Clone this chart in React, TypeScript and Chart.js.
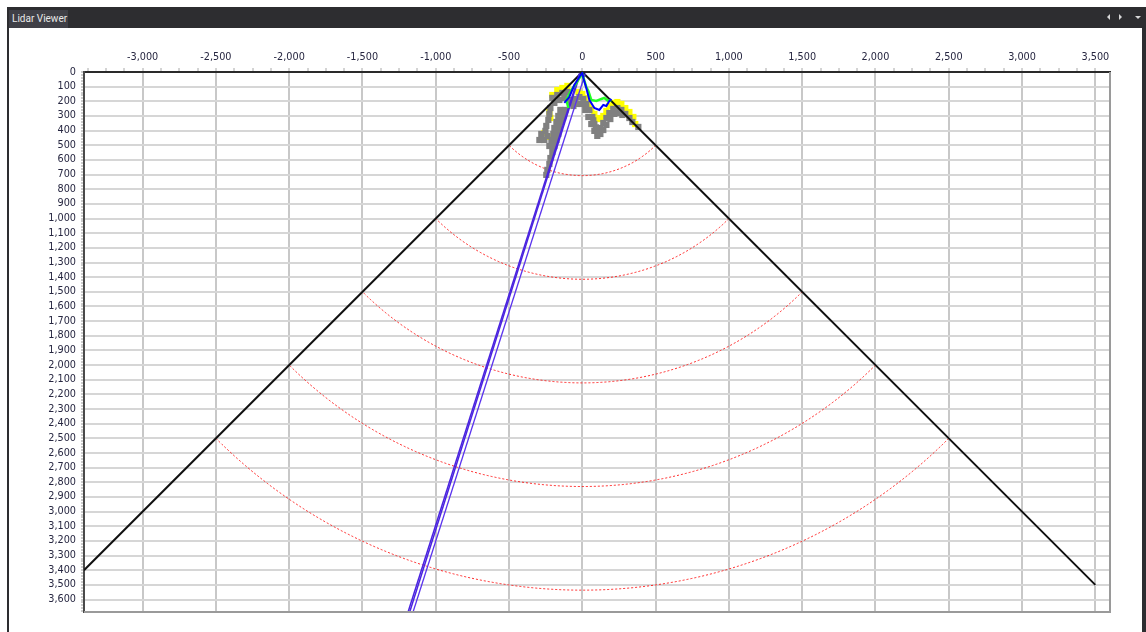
import React, { useEffect, useRef } from "react";
import { Chart, registerables } from "chart.js";

Chart.register(...registerables);

// ---- axis ranges / tick labels ----
const X_MIN = -3400;
const X_MAX = 3600;
const Y_MIN = 0;
const Y_MAX = 3685;
const X_LABELS = [-3000, -2500, -2000, -1500, -1000, -500, 0, 500, 1000, 1500, 2000, 2500, 3000, 3500];
const Y_LABELS = [
  0, 100, 200, 300, 400, 500, 600, 700, 800, 900, 1000, 1100, 1200, 1300, 1400, 1500, 1600, 1700, 1800,
  1900, 2000, 2100, 2200, 2300, 2400, 2500, 2600, 2700, 2800, 2900, 3000, 3100, 3200, 3300, 3400, 3500, 3600,
];
const X_MINOR_STEP = 125;
const Y_MINOR_STEP = 20;

// ---- field of view & range rings ----
const FOV_LINE = [
  { x: -3400, y: 3400 },
  { x: 0, y: 0 },
  { x: 3500, y: 3500 },
];
// range rings meet the FOV lines at these x values
const RING_X = [500, 1000, 1500, 2000, 2500];

// ---- beams ----
const BEAM_A = [
  { x: -20, y: 10 },
  { x: -1189, y: 3685 },
];
const BEAM_B = [
  { x: -14, y: 10 },
  { x: -1178, y: 3685 },
];
const BEAM_C = [
  { x: 20, y: 10 },
  { x: -1155, y: 3685 },
];

// ---- point clouds ----
const GRAY_POINTS = [
  { x: -205, y: 177 }, { x: -171, y: 157 }, { x: -136, y: 143 }, { x: -102, y: 136 }, { x: -191, y: 211 },
  { x: -157, y: 191 }, { x: -123, y: 177 }, { x: -89, y: 191 }, { x: -75, y: 205 },
  { x: -218, y: 246 }, { x: -225, y: 286 }, { x: -232, y: 327 }, { x: -246, y: 368 }, { x: -252, y: 402 },
  { x: -239, y: 436 }, { x: -259, y: 464 }, { x: -293, y: 464 }, { x: -280, y: 423 },
  { x: -116, y: 259 }, { x: -130, y: 300 }, { x: -143, y: 341 }, { x: -157, y: 382 }, { x: -164, y: 423 },
  { x: -177, y: 464 }, { x: -191, y: 505 }, { x: -205, y: 546 }, { x: -218, y: 587 }, { x: -225, y: 627 },
  { x: -239, y: 668 }, { x: -246, y: 702 },
  { x: -150, y: 259 }, { x: -164, y: 300 }, { x: -177, y: 341 }, { x: -191, y: 382 }, { x: -198, y: 423 },
  { x: -211, y: 464 }, { x: -225, y: 505 },
  { x: -75, y: 205 }, { x: -48, y: 184 }, { x: -20, y: 171 }, { x: 7, y: 184 }, { x: 27, y: 218 },
  { x: 48, y: 259 }, { x: 68, y: 307 }, { x: 75, y: 330 }, { x: 82, y: 355 }, { x: 92, y: 378 },
  { x: 102, y: 396 }, { x: 123, y: 382 }, { x: 143, y: 348 }, { x: 164, y: 314 }, { x: 184, y: 280 },
  { x: 211, y: 252 }, { x: 239, y: 246 }, { x: 266, y: 259 }, { x: 293, y: 286 }, { x: 321, y: 314 },
  { x: 341, y: 341 }, { x: 382, y: 375 },
  { x: -61, y: 232 }, { x: -34, y: 218 }, { x: -7, y: 218 }, { x: 20, y: 259 }, { x: 41, y: 307 },
  { x: 61, y: 355 }, { x: 82, y: 402 }, { x: 102, y: 436 }, { x: 123, y: 423 }, { x: 143, y: 396 },
  { x: 164, y: 361 }, { x: 191, y: 321 }, { x: 218, y: 286 }, { x: 246, y: 280 }, { x: 273, y: 293 },
];

const YELLOW_POINTS = [
  { x: -171, y: 123 }, { x: -136, y: 109 }, { x: -102, y: 95 }, { x: -205, y: 157 }, { x: -225, y: 273 },
  { x: -232, y: 443 }, { x: -259, y: 416 }, { x: -218, y: 314 },
  { x: -27, y: 136 }, { x: 0, y: 150 }, { x: 20, y: 177 }, { x: 41, y: 218 }, { x: 61, y: 252 },
  { x: 82, y: 286 }, { x: 102, y: 314 }, { x: 123, y: 321 }, { x: 143, y: 300 }, { x: 164, y: 266 },
  { x: 184, y: 232 }, { x: 211, y: 211 }, { x: 239, y: 205 }, { x: 266, y: 218 }, { x: 293, y: 246 },
  { x: 321, y: 273 }, { x: 348, y: 307 }, { x: 361, y: 355 },
];

const GREEN_TRACE = [
  { x: -95, y: 246 }, { x: -109, y: 191 }, { x: -75, y: 123 }, { x: -41, y: 75 }, { x: -20, y: 41 },
  { x: 0, y: 14 }, { x: 14, y: 61 }, { x: 27, y: 102 }, { x: 41, y: 130 }, { x: 61, y: 191 },
  { x: 95, y: 198 }, { x: 130, y: 184 }, { x: 150, y: 177 }, { x: 177, y: 198 }, { x: 198, y: 191 },
];

const BLUE_TRACE = [
  { x: -123, y: 211 }, { x: -89, y: 171 }, { x: -55, y: 89 }, { x: -20, y: 34 }, { x: 0, y: 7 },
  { x: 7, y: 41 }, { x: 27, y: 109 }, { x: 48, y: 191 }, { x: 82, y: 246 }, { x: 116, y: 259 },
  { x: 143, y: 225 }, { x: 164, y: 232 }, { x: 184, y: 198 }, { x: 198, y: 184 },
];

const fmt = (v: number) => v.toLocaleString("en-US");

const framePlugin = {
  id: "frameAndRings",
  beforeDatasetsDraw(chart: any) {
    const { ctx, chartArea, scales } = chart;
    const xs = scales.x;
    const ys = scales.y;
    const cx = xs.getPixelForValue(0);
    const cy = ys.getPixelForValue(0);
    ctx.save();
    ctx.beginPath();
    ctx.rect(chartArea.left, chartArea.top, chartArea.right - chartArea.left, chartArea.bottom - chartArea.top);
    ctx.clip();
    ctx.strokeStyle = "rgba(255,20,20,0.9)";
    ctx.lineWidth = 1;
    ctx.setLineDash([2, 2]);
    RING_X.forEach((rx) => {
      const ex = xs.getPixelForValue(rx);
      const ey = ys.getPixelForValue(rx);
      const r = Math.hypot(ex - cx, ey - cy);
      ctx.beginPath();
      ctx.arc(cx, cy, r, Math.PI / 4, (3 * Math.PI) / 4);
      ctx.stroke();
    });
    ctx.restore();
  },
  afterDraw(chart: any) {
    const { ctx, chartArea } = chart;
    ctx.save();
    ctx.strokeStyle = "#9a9a9a";
    ctx.lineWidth = 2;
    ctx.beginPath();
    ctx.moveTo(chartArea.right, chartArea.top);
    ctx.lineTo(chartArea.right, chartArea.bottom);
    ctx.lineTo(chartArea.left, chartArea.bottom);
    ctx.stroke();
    ctx.restore();
  },
};

export default function App() {
  const ref = useRef<HTMLCanvasElement>(null);

  useEffect(() => {
    document.body.style.margin = "0";
    const canvas = ref.current;
    if (!canvas) return;
    const labelFont = { family: "DejaVu Sans", size: 9.7 };
    const labelColor = "#262640";

    const chart = new Chart(canvas, {
      type: "scatter",
      data: {
        datasets: [
          {
            label: "blue",
            data: BLUE_TRACE,
            showLine: true,
            borderColor: "#0000ff",
            backgroundColor: "#0000ff",
            borderWidth: 2,
            pointRadius: 0,
            order: 0,
          },
          {
            label: "green",
            data: GREEN_TRACE,
            showLine: true,
            borderColor: "#22ff22",
            backgroundColor: "#22ff22",
            borderWidth: 2.5,
            pointRadius: 0,
            order: 1,
          },
          {
            label: "beamA",
            data: BEAM_A,
            showLine: true,
            borderColor: "#4a23e0",
            borderWidth: 1.5,
            pointRadius: 0,
            order: 2,
          },
          {
            label: "beamB",
            data: BEAM_B,
            showLine: true,
            borderColor: "#4a23e0",
            borderWidth: 1.5,
            pointRadius: 0,
            order: 2,
          },
          {
            label: "beamC",
            data: BEAM_C,
            showLine: true,
            borderColor: "#5a33ee",
            borderWidth: 1.3,
            pointRadius: 0,
            order: 2,
          },
          {
            label: "fov",
            data: FOV_LINE,
            showLine: true,
            borderColor: "#111111",
            borderWidth: 2,
            pointRadius: 0,
            order: 3,
          },
          {
            label: "gray",
            data: GRAY_POINTS,
            pointStyle: "rect",
            pointRadius: 4.4,
            backgroundColor: "#808080",
            borderWidth: 0,
            order: 4,
          },
          {
            label: "yellow",
            data: YELLOW_POINTS,
            pointStyle: "rect",
            pointRadius: 4.4,
            backgroundColor: "#ffff00",
            borderWidth: 0,
            order: 5,
          },
        ],
      },
      options: {
        responsive: false,
        animation: false,
        events: [],
        layout: { padding: { left: 0, top: 0, right: 32, bottom: 20 } },
        plugins: {
          legend: { display: false },
          tooltip: { enabled: false },
        },
        scales: {
          x: {
            type: "linear",
            position: "top",
            min: X_MIN,
            max: X_MAX,
            afterBuildTicks: (scale: any) => {
              const ticks: { value: number }[] = [];
              const start = Math.ceil(X_MIN / X_MINOR_STEP) * X_MINOR_STEP;
              for (let v = start; v <= X_MAX; v += X_MINOR_STEP) ticks.push({ value: v });
              scale.ticks = ticks;
            },
            afterFit: (scale: any) => {
              scale.height = 44;
            },
            ticks: {
              autoSkip: false,
              maxRotation: 0,
              minRotation: 0,
              padding: 5,
              font: labelFont,
              color: labelColor,
              callback: (v: any) => (X_LABELS.includes(Number(v)) ? fmt(Number(v)) : ""),
            },
            grid: {
              color: (ctx: any) => (X_LABELS.includes(ctx.tick?.value) ? "#c8c8c8" : "rgba(0,0,0,0)"),
              lineWidth: 2,
              drawTicks: true,
              tickLength: 4,
              tickColor: "#a8a8a8",
              tickWidth: 1,
            },
            border: { display: true, color: "#2a2a2a", width: 2 },
          },
          y: {
            type: "linear",
            position: "left",
            reverse: true,
            min: Y_MIN,
            max: Y_MAX,
            afterBuildTicks: (scale: any) => {
              const ticks: { value: number }[] = [];
              for (let v = Y_MIN; v <= Y_MAX; v += Y_MINOR_STEP) ticks.push({ value: v });
              scale.ticks = ticks;
            },
            afterFit: (scale: any) => {
              scale.width = 75;
            },
            ticks: {
              autoSkip: false,
              padding: 5,
              font: labelFont,
              color: labelColor,
              callback: (v: any) => (Y_LABELS.includes(Number(v)) ? fmt(Number(v)) : ""),
            },
            grid: {
              color: (ctx: any) =>
                Y_LABELS.includes(ctx.tick?.value) && ctx.tick?.value !== 0 ? "#d6d6d6" : "rgba(0,0,0,0)",
              lineWidth: 2,
              drawTicks: true,
              tickLength: 3,
              tickColor: "#9a9a9a",
              tickWidth: 1,
            },
            border: { display: true, color: "#4a4a4a", width: 2 },
          },
        },
      },
      plugins: [framePlugin],
    } as any);

    return () => chart.destroy();
  }, []);

  const tri = (style: React.CSSProperties) => (
    <div style={{ position: "absolute", width: 0, height: 0, ...style }} />
  );

  return (
    <div style={{ position: "relative", width: 1146, height: 632, background: "#ffffff", overflow: "hidden" }}>
      <div style={{ position: "absolute", left: 7, top: 7, width: 1139, height: 21, background: "#2d2d30" }} />
      <div style={{ position: "absolute", left: 7, top: 7, width: 2, height: 625, background: "#2d2d30" }} />
      <div style={{ position: "absolute", left: 1142, top: 7, width: 4, height: 625, background: "#2d2d30" }} />
      <div
        style={{
          position: "absolute",
          left: 9,
          top: 10,
          width: 59,
          height: 18,
          background: "#3f3f46",
          color: "#e8e8e8",
          fontFamily: "Roboto, 'DejaVu Sans', sans-serif",
          fontSize: 10,
          lineHeight: "18px",
          paddingLeft: 3,
          boxSizing: "border-box",
          whiteSpace: "nowrap",
        }}
      >
        Lidar Viewer
      </div>
      {tri({ left: 1107, top: 14, borderTop: "3px solid transparent", borderBottom: "3px solid transparent", borderRight: "3px solid #d8d8d8" })}
      {tri({ left: 1119, top: 14, borderTop: "3px solid transparent", borderBottom: "3px solid transparent", borderLeft: "3px solid #d8d8d8" })}
      {tri({ left: 1135, top: 16, borderLeft: "3px solid transparent", borderRight: "3px solid transparent", borderTop: "3px solid #d8d8d8" })}
      <canvas ref={ref} width={1133} height={604} style={{ position: "absolute", left: 9, top: 28 }} />
    </div>
  );
}
